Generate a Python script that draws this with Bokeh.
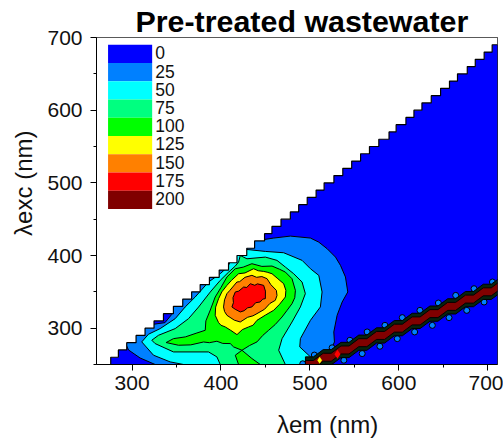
from bokeh.plotting import figure
from bokeh.models import Range1d, FixedTicker, Label
from bokeh.embed import file_html
from bokeh.resources import INLINE

# ---- data (emission nm, excitation nm) ----
levels = ["0", "25", "50", "75", "100", "125", "150", "175", "200"]
colors = ["#0000ff", "#0080ff", "#00ffff", "#00ff80", "#00ff00", "#ffff00", "#ff8000", "#ff0000", "#800000"]

stair_top = [260,270,280,290,300,310,320,330,340,350,360,370,380,390,400,410,420,430,440,450,460,470,480,490,
             500,510,520,530,540,550,560,570,580,590,600,610,620,630,640,650,660,670,680,690]
stair_em = [276,284.6,294,304.5,314.6,324.7,335.3,346.5,357,367,376.6,387,398,408.5,418,429,437.8,449,457.3,467.5,478,487.4,497,507,
            516,527,537,547,557,567,577.5,589,597,608,617,626,636.5,647,657,666,677,686,696,705]

c25_x = [326,309,296,290,318,325,337,344.7,346.6,352,445,449.1,459.3,478,500.6,510,519.4,528.8,534.4,540,542.6,536.3,530.6,526.9,527.6,519.4,500.6]
c25_y = [250,259,270,286,302,305.5,307.6,319,330.5,345,435,422.1,424,426.7,424,418.4,409.3,397.8,386.4,370.4,349.8,336,317.7,294.8,281,258,250]

c50_x = [357.9,342.8,324.1,310.9,318.4,331.6,348.5,359.7,371,386,399.2,407.4,412,425,428.5,449.9,470.5,491.2,500.6,510,513.7,511.8,500.6,489.3,488.6,500.6,496.8]
c50_y = [250,253.6,262.8,281.1,291.6,299.4,313.1,329.1,342.9,363.5,375,384.1,395,412,408.4,405.6,403.8,393.3,381.8,372.6,349.8,329.2,310.8,285.6,274.2,260.5,250]

c75_x = [399.2,395.4,386,346.6,325.9,322.2,329.7,348.5,363.5,374.8,387.9,399.2,408.6,416.1,419.8,421.7,429.2,449.9,463,472.4,481.8,491.2,494.9,489.3,479.9,468.7,464.9,472.4]
c75_y = [250,260.5,267.3,267.3,278.8,283.4,290.2,299.4,313.1,329.1,349.7,365.8,377.2,385.5,391,400,395.5,397.8,393.3,384.1,374.9,363.5,347.5,329.2,308.5,285.6,269.6,250]

c100_x = [338.3,346.6,360,372,382.3,383,388,393.5,400,406.7,416.1,425,434.8,446,457.4,466,472.4,479.9,483.7,483,479.9,474,468.7,461,453.6,447,440.5,432,423.6,414.2,410.4,402,395.4,387,380.4,366,352.2]
c100_y = [280.2,285.6,288,293,297.1,310,325,342.9,356,370.4,381.8,384,388.7,385,385.5,381,377.2,368,352,342,333.7,324,315.4,305,297.1,290,281.1,276,269.6,274.2,278.8,279,282,280,281,277,276.5]
c100b_x = [423.6,416.1,419.8,444.2,434.8]
c100b_y = [269.6,262.8,250,250,258.2]

c125_x = [393.5,394,397.3,401,406.7,412,419.8,427,436.7,442,448,452,457.4,464,470.5,473,472.4,466,459.3,450,440.5,436,431.1,424,418,411,404.8,400,397.3]
c125_y = [317.7,329,340.6,350,358.9,366,374.9,376,381.8,379,378.1,377,374.9,368,361.2,352,342.9,333,324.6,318,310.8,304,301.7,298,291.1,297,301.7,304,307.6]

c150_x = [402.9,404,406.7,410,417.9,421,427,434.8,440,446,451.8,456,462.3,463,461.1,455,449,440.5,436,430,421.7,415,406.7,404]
c150_y = [329.2,339,347.5,352,363.5,364,370,372.7,370,371,368.1,360,352,345,338.3,334,326,320,317,315,308.5,311,317.7,323]

c175_x = [412.3,414,413.5,416.1,420,425.5,429,433,438,441,448,450,449.9,447,444,439,434.8,430,426,421.7,416]
c175_y = [329.2,335,342,349.8,351,356.6,356,361.2,359,361,358.9,351,340.6,340,336,335,329.2,328,324,322.3,326]

band_em = [495,504,515,524,535,544,555,564,575,584,595,604,615,624,635,644,655,664,675,684,695,704,715,724]
band_exc = [250,250,260,260,270,270,280,280,290,290,300,300,310,310,320,320,330,330,340,340,350,350,360,360]

bump_top_em = [505,525,545,564.4,584.4,603.9,623.8,644.5,664,684.6,705.3]
bump_top_exc = [263,273,283.3,294.8,303.9,314.5,324.5,334.6,345.1,354.3,363.5]
bump_low_em = [492,518,538.2,558.8,578.7,598.3,617.8,637.7,656.5,676.4,695.9]
bump_low_exc = [251,246,255.9,265,275.1,285.6,294.8,303.9,314.5,324.5,336]

x_ticks = [300, 400, 500, 600, 700]
x_minor = [350, 450, 550, 650]
y_ticks = [300, 400, 500, 600, 700]
y_minor = [250, 350, 450, 550, 650]

# ---- figure ----
FONT = "Liberation Sans"
p = figure(width=503, height=439, output_backend="svg", toolbar_location=None,
           x_range=Range1d(260, 711), y_range=Range1d(250, 700),
           min_border_left=96, min_border_right=6, min_border_top=37, min_border_bottom=75)
p.grid.visible = False
p.outline_line_color = "#222222"
p.outline_line_width = 1
p.title.text = "Pre-treated wastewater"
p.title.text_font = FONT
p.title.text_font_size = "30.4px"
p.title.text_font_style = "bold"
p.title.text_color = "#000000"
p.title.align = "left"
p.title.offset = 39
p.title.standoff = 0

for ax, t, m, standoff in ((p.xaxis[0], x_ticks, x_minor, 5), (p.yaxis[0], y_ticks, y_minor, 8)):
    ax.ticker = FixedTicker(ticks=t, minor_ticks=m)
    ax.major_tick_out = 6
    ax.major_tick_in = 0
    ax.minor_tick_out = 3
    ax.minor_tick_in = 0
    ax.axis_line_color = "#000000"
    ax.major_tick_line_color = "#000000"
    ax.minor_tick_line_color = "#000000"
    ax.major_label_text_font = FONT
    ax.major_label_text_font_size = "21px"
    ax.major_label_text_color = "#111111"
    ax.major_label_standoff = standoff

# staircase: up at each em, then along to the next em
stair_x, stair_y = [], []
for e, t in zip(stair_em, stair_top):
    stair_x += [e, e]
    stair_y += [t - 10, t]
stair_x.append(711)
stair_y.append(stair_top[-1])

p.patch(stair_x + [711], stair_y + [250], fill_color=colors[0], line_color=None)

contours = [
    ([c25_x], [c25_y], colors[1]),
    ([c50_x], [c50_y], colors[2]),
    ([c75_x], [c75_y], colors[3]),
    ([c100_x, c100b_x], [c100_y, c100b_y], colors[4]),
    ([c125_x], [c125_y], colors[5]),
    ([c150_x], [c150_y], colors[6]),
    ([c175_x], [c175_y], colors[7]),
]
for xs, ys, c in contours:
    p.patches(xs, ys, fill_color=c, line_color="#000000", line_width=1)

# mask outside the measured region
p.patch(stair_x + [711, 260, 260], stair_y + [700, 700, 250], fill_color="#ffffff", line_color=None)
p.line(stair_x, stair_y, line_color="#000000", line_width=1.2)

# second-order scatter band
for ex, ey in ((bump_top_em, bump_top_exc), (bump_low_em, bump_low_exc)):
    p.scatter(ex, ey, size=6, fill_color=colors[1], line_color="#000000", line_width=1)

upper = [v + 10.5 for v in band_exc]
lower = [v - 10.5 for v in band_exc]
p.patch(band_em + band_em[::-1], upper + lower[::-1], fill_color="#06240f", line_color="#000000", line_width=1)
upper = [v + 5.5 for v in band_exc]
lower = [v - 5.5 for v in band_exc]
p.patch(band_em + band_em[::-1], upper + lower[::-1], fill_color=colors[8], line_color="#000000", line_width=1)
p.scatter([531], [264], marker="diamond", size=9, fill_color=colors[7], line_color=None)
p.scatter([511], [256], marker="diamond", size=7, fill_color=colors[5], line_color=None)

# legend, in data units
LEG_TOP, LEG_ROW = 690, 25.1
for i, (lab_text, c) in enumerate(zip(levels, colors)):
    p.quad(left=273, right=322.6, top=LEG_TOP - i * LEG_ROW, bottom=LEG_TOP - (i + 1) * LEG_ROW,
           fill_color=c, line_color=None)
    p.add_layout(Label(x=326, y=LEG_TOP - (i + 0.5) * LEG_ROW + 1.5, text=lab_text, text_font=FONT, text_font_size="17.5px",
                       text_baseline="middle", text_color="#111111"))

def lab(x, y, text, size, side, angle=0):
    # annotations in a side panel are not clipped to the frame
    p.add_layout(Label(x=x, y=y, text=text, text_font=FONT, text_font_size=size, angle=angle,
                       text_baseline="alphabetic", text_align="left", text_color="#111111"), side)

lab(463, 168, "λem (nm)", "24px", "below")
lab(178.3, 427, "λexc (nm)", "24px", "left", 1.5708)

open("out.html", "w").write(file_html(p, INLINE))
